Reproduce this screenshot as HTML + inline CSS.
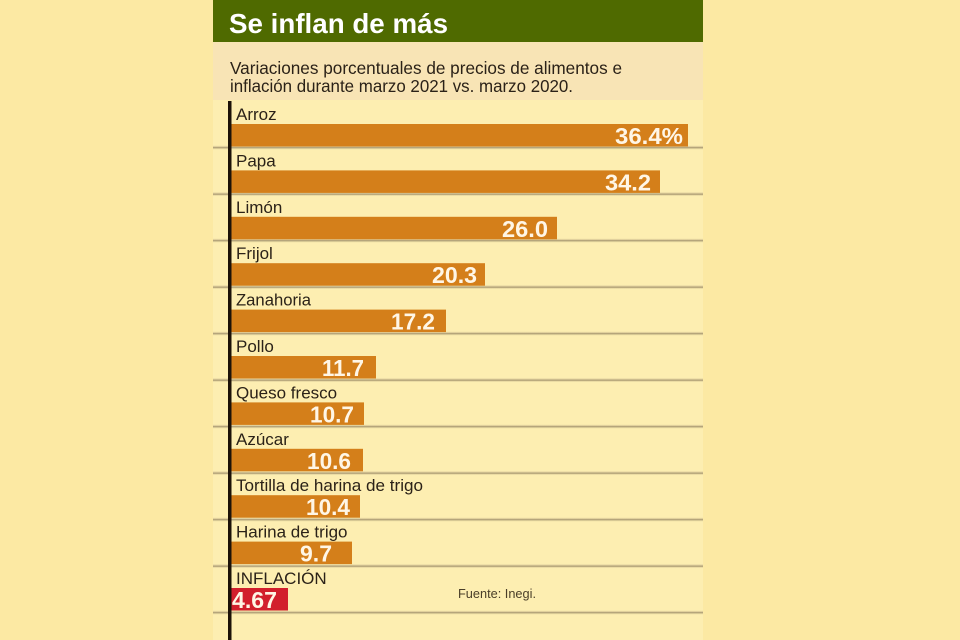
<!DOCTYPE html>
<html>
<head>
<meta charset="utf-8">
<style>
html,body{margin:0;padding:0;background:#fce9a3;}
svg{display:block;}
</style>
</head>
<body>
<svg width="960" height="640" viewBox="0 0 960 640" xmlns="http://www.w3.org/2000/svg">
  <defs>
    <linearGradient id="sep" x1="0" y1="0" x2="0" y2="1">
      <stop offset="0" stop-color="#fdeeb1" stop-opacity="0"/>
      <stop offset="0.35" stop-color="#d8c796"/>
      <stop offset="0.55" stop-color="#a99a72"/>
      <stop offset="1" stop-color="#fdeeb1" stop-opacity="0"/>
    </linearGradient>
  </defs>
  <rect x="0" y="0" width="960" height="640" fill="#fce9a3"/>
  <!-- panel -->
  <rect x="213" y="0" width="490" height="640" fill="#fdeeb1"/>
  <!-- header -->
  <rect x="213" y="0" width="490" height="42" fill="#4f6a00"/>
  <text x="229" y="33" font-family="Liberation Sans, sans-serif" font-weight="bold" font-size="28" fill="#ffffff" textLength="219" lengthAdjust="spacingAndGlyphs">Se inflan de más</text>
  <!-- subtitle band -->
  <rect x="213" y="42" width="490" height="58" fill="#f8e4b5"/>
  <text x="230" y="74" font-family="Liberation Sans, sans-serif" font-size="17.5" fill="#2b2218" textLength="392" lengthAdjust="spacingAndGlyphs">Variaciones porcentuales de precios de alimentos e</text>
  <text x="230" y="92" font-family="Liberation Sans, sans-serif" font-size="17.5" fill="#2b2218" textLength="343" lengthAdjust="spacingAndGlyphs">inflación durante marzo 2021 vs. marzo 2020.</text>

  <g font-family="Liberation Sans, sans-serif">
    <!-- separators -->
    <g fill="url(#sep)">
      <rect x="213" y="145" width="490" height="5"/>
      <rect x="213" y="191.5" width="490" height="5"/>
      <rect x="213" y="238" width="490" height="5"/>
      <rect x="213" y="284.5" width="490" height="5"/>
      <rect x="213" y="331" width="490" height="5"/>
      <rect x="213" y="377.5" width="490" height="5"/>
      <rect x="213" y="424" width="490" height="5"/>
      <rect x="213" y="470.5" width="490" height="5"/>
      <rect x="213" y="517" width="490" height="5"/>
      <rect x="213" y="563.5" width="490" height="5"/>
      <rect x="213" y="610" width="490" height="5"/>
    </g>

    <!-- bars -->
    <g fill="#d47f1a">
      <rect x="231" y="124" width="457" height="22.5"/>
      <rect x="231" y="170.4" width="429" height="22.5"/>
      <rect x="231" y="216.8" width="326" height="22.5"/>
      <rect x="231" y="263.2" width="254" height="22.5"/>
      <rect x="231" y="309.6" width="215" height="22.5"/>
      <rect x="231" y="356" width="145" height="22.5"/>
      <rect x="231" y="402.4" width="133" height="22.5"/>
      <rect x="231" y="448.8" width="132" height="22.5"/>
      <rect x="231" y="495.2" width="129" height="22.5"/>
      <rect x="231" y="541.6" width="121" height="22.5"/>
    </g>
    <rect x="231" y="588" width="57" height="22.5" fill="#d21f2c"/>

    <!-- labels -->
    <g font-size="17" fill="#2b2218">
      <text x="236" y="120">Arroz</text>
      <text x="236" y="166.4">Papa</text>
      <text x="236" y="212.8">Limón</text>
      <text x="236" y="259.2">Frijol</text>
      <text x="236" y="305.6" textLength="75" lengthAdjust="spacingAndGlyphs">Zanahoria</text>
      <text x="236" y="352">Pollo</text>
      <text x="236" y="398.4">Queso fresco</text>
      <text x="236" y="444.8">Azúcar</text>
      <text x="236" y="491.2" textLength="187" lengthAdjust="spacingAndGlyphs">Tortilla de harina de trigo</text>
      <text x="236" y="537.6">Harina de trigo</text>
      <text x="236" y="584">INFLACIÓN</text>
    </g>

    <!-- values -->
    <g font-size="23.5" font-weight="bold" fill="#fff6e6" text-anchor="end">
      <text x="683" y="144" textLength="68" lengthAdjust="spacingAndGlyphs">36.4%</text>
      <text x="651" y="190.4" textLength="46" lengthAdjust="spacingAndGlyphs">34.2</text>
      <text x="548" y="236.8" textLength="46" lengthAdjust="spacingAndGlyphs">26.0</text>
      <text x="477" y="283.2" textLength="45" lengthAdjust="spacingAndGlyphs">20.3</text>
      <text x="435" y="329.6" textLength="44" lengthAdjust="spacingAndGlyphs">17.2</text>
      <text x="364" y="376" textLength="42" lengthAdjust="spacingAndGlyphs">11.7</text>
      <text x="354" y="422.4" textLength="44" lengthAdjust="spacingAndGlyphs">10.7</text>
      <text x="351" y="468.8" textLength="44" lengthAdjust="spacingAndGlyphs">10.6</text>
      <text x="350" y="515.2" textLength="44" lengthAdjust="spacingAndGlyphs">10.4</text>
      <text x="332" y="561.6" textLength="32" lengthAdjust="spacingAndGlyphs">9.7</text>
    </g>
    <text x="232" y="608" font-size="23.5" font-weight="bold" fill="#fff6e6" textLength="45" lengthAdjust="spacingAndGlyphs">4.67</text>

    <text x="458" y="598" font-size="13" fill="#4a3e28" textLength="78" lengthAdjust="spacingAndGlyphs">Fuente: Inegi.</text>
  </g>

  <!-- axis -->
  <rect x="228" y="101" width="3.5" height="539" fill="#1c1208"/>
</svg>
</body>
</html>
